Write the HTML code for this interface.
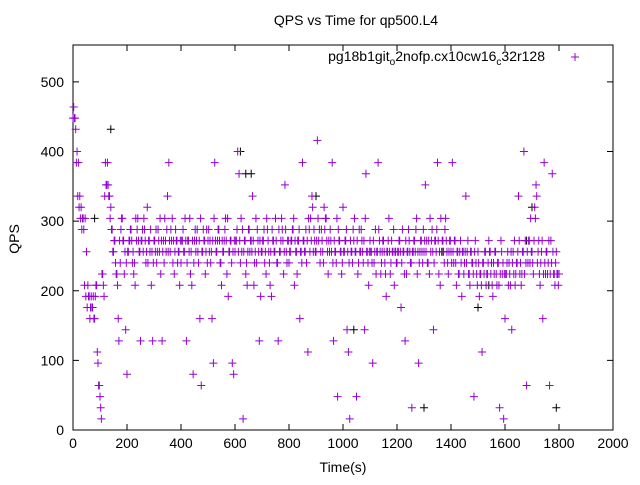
<!DOCTYPE html>
<html><head><meta charset="utf-8"><style>
body{margin:0;background:#fff}
svg text{font-family:"Liberation Sans",sans-serif;font-size:14px;fill:#000}
</style></head><body>
<svg id="chart" width="640" height="480" viewBox="0 0 640 480" xmlns="http://www.w3.org/2000/svg">
<rect width="640" height="480" fill="#fff"/>
<text x="356" y="25" text-anchor="middle">QPS vs Time for qp500.L4</text>
<text x="343" y="472" text-anchor="middle">Time(s)</text>
<text transform="translate(19,239) rotate(-90)" text-anchor="middle">QPS</text>
<g id="axes"></g>
<g id="marks"></g>
<g>
<text x="545" y="61" text-anchor="end">pg18b1git<tspan dy="4" font-size="10">o</tspan><tspan dy="-4">2nofp.cx10cw16</tspan><tspan dy="4" font-size="10">c</tspan><tspan dy="-4">32r128</tspan></text>
<path d="M571 57h8M575 53v8" stroke="#9400d3" stroke-width="1"/>
</g>
</svg>
<script>
const xTicks=[0,200,400,600,800,1000,1200,1400,1600,1800,2000];
const yTicks=[0,100,200,300,400,500];
const timeStep=5;
const qpsValues=[
448,448,432,400,384,336,320,304,288,304,256,208,192,176,176,192,160,208,112,64,
48,16,224,192,384,352,352,336,320,288,256,272,224,208,128,240,304,272,224,144,
80,256,272,288,240,224,208,272,304,256,128,272,256,288,240,320,272,256,208,128,
272,256,240,288,256,224,128,272,304,256,336,384,256,272,240,224,288,272,256,208,
240,272,256,304,128,272,256,224,208,80,272,256,288,240,160,64,256,272,224,288,
272,256,240,160,96,384,256,272,288,240,208,256,272,304,224,192,256,272,96,80,
256,272,400,368,240,256,16,272,224,208,288,256,272,336,208,256,240,272,128,192,
256,272,240,224,288,256,208,192,272,256,304,240,128,256,272,288,224,352,256,272,
240,256,272,288,208,256,224,272,160,256,384,272,256,240,112,288,304,336,256,272,
256,416,272,240,288,256,320,304,272,224,256,272,384,128,256,240,48,272,256,224,
320,256,272,144,112,16,256,240,272,256,48,224,288,256,272,240,144,368,256,208,
272,256,96,240,288,256,384,272,224,256,272,240,192,256,304,224,272,256,208,256,
240,256,272,176,288,256,128,224,256,272,240,32,256,272,288,224,96,256,272,240,
256,352,272,240,224,256,288,144,272,256,384,224,208,256,272,240,304,256,224,272,
256,384,240,272,208,256,224,272,192,256,240,336,256,224,208,256,240,48,272,224,
256,192,224,112,240,256,208,224,272,256,240,192,224,256,208,240,32,272,224,16,
160,224,256,240,208,144,256,272,224,240,336,224,208,256,400,272,64,240,272,304,
256,224,320,352,240,272,208,256,160,384,224,256,240,64,272,368,224,208,256,224,
224];
const qpsValuesB=[
464,448,384,336,320,304,288,304,208,192,176,192,160,192,176,160,192,208,96,64,
32,224,208,336,352,384,336,304,288,256,272,240,224,160,272,288,304,272,256,240,
256,272,288,272,256,240,304,288,272,256,272,288,304,272,256,240,272,288,256,240,
272,288,256,272,304,272,256,240,272,288,256,272,288,304,272,256,272,240,256,272,
272,288,256,272,240,272,304,256,272,240,288,272,256,272,304,256,288,272,256,240,
288,272,256,272,304,272,256,288,272,240,272,256,288,272,304,256,272,240,256,272,
272,288,256,272,304,288,256,272,240,256,288,272,256,272,240,304,288,256,272,256,
272,288,256,304,272,240,256,288,272,256,272,240,288,256,304,272,256,288,240,272,
256,272,288,304,272,256,272,288,256,240,272,256,288,272,304,256,272,320,288,256,
272,304,288,256,272,240,288,304,256,272,288,256,240,272,256,304,288,272,256,240,
256,272,288,256,240,272,256,288,304,256,272,240,256,288,256,272,304,256,240,256,
256,240,272,256,224,256,288,256,240,272,256,224,256,272,256,240,256,288,256,240,
256,272,256,240,256,224,272,256,288,256,240,256,272,256,304,256,240,272,256,288,
272,256,240,272,304,272,256,240,272,288,272,256,304,272,256,288,272,240,256,272,
240,256,272,240,256,224,256,240,256,224,256,240,272,224,256,240,224,256,240,208,
240,224,208,240,224,256,224,240,256,224,208,240,256,224,240,208,224,256,240,224,
224,240,208,224,256,240,224,208,240,256,272,240,224,256,224,240,256,272,240,256,
240,272,304,336,256,224,240,272,224,240,256,224,272,224,240,256,224,240,224,208];
const blackTimes=[80,140,620,640,660,900,1040,1300,1370,1500,1540,1680,1700,1790];
const blackValues=[304,432,400,368,368,336,144,32,256,176,208,272,320,32];
const L=73,R=613,T=45,B=430,XMAX=2000,YMAX=553;
const xs=v=>L+(R-L)*v/XMAX;
const ys=v=>B-(B-T)*v/YMAX;
const NS="http://www.w3.org/2000/svg";
const axes=document.getElementById('axes');
const marks=document.getElementById('marks');
function mk(tag,attrs,parent){const e=document.createElementNS(NS,tag);for(const k in attrs)e.setAttribute(k,attrs[k]);parent.appendChild(e);return e;}
const frame=mk('rect',{x:L,y:T,width:R-L,height:B-T,fill:'none',stroke:'#000','stroke-width':1},axes);


xTicks.forEach(t=>{
 const x=xs(t);
 const p=mk('path',{d:`M${x} ${B}v-6M${x} ${T}v6`,stroke:'#000','stroke-width':1},axes);
 
 
 const tx=mk('text',{x:x,y:B+18,'text-anchor':'middle'},axes);tx.textContent=t;
 
 
});
yTicks.forEach(t=>{
 const y=ys(t);
 const p=mk('path',{d:`M${L} ${y}h6M${R} ${y}h-6`,stroke:'#000','stroke-width':1},axes);
 
 
 const tx=mk('text',{x:L-9,y:y+5,'text-anchor':'end'},axes);tx.textContent=t;
 
 
});
function plus(t,v,color){
 const x=xs(t),y=ys(v);
 return mk('path',{d:`M${x-4} ${y}h8M${x} ${y-4}v8`,stroke:color,'stroke-width':1},marks);
}
blackTimes.forEach((t,i)=>{
 const p=plus(t,blackValues[i],'#000');
 
 
});
qpsValues.forEach((v,i)=>{
 const p=plus(i*timeStep,v,'#9400d3');
 
 
});
qpsValuesB.forEach((v,i)=>{
 const p=plus(i*timeStep+2.5,v,'#9400d3');
 
 
});
</script>
</body></html>
